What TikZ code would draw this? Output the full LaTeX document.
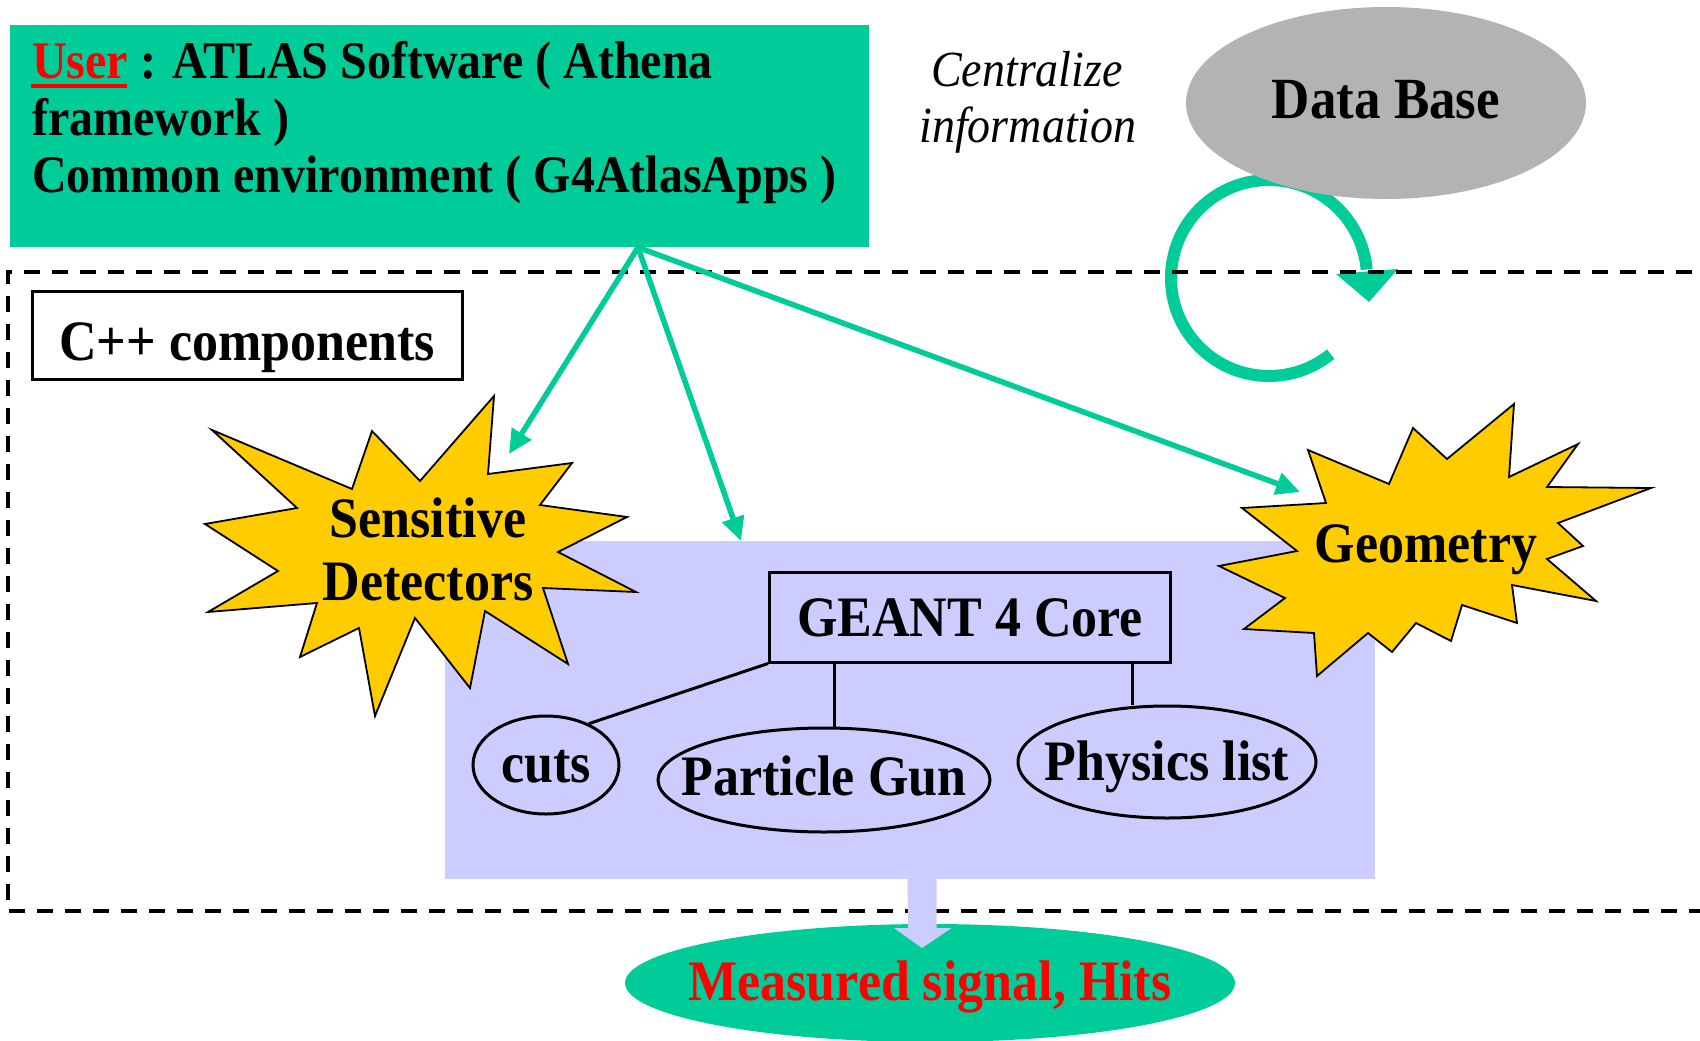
\documentclass[tikz,border=0pt]{standalone}
\usepackage{fontspec}
\usepackage{graphicx}
\setmainfont{Liberation Serif}
\usetikzlibrary{arrows.meta,shapes.geometric,calc}
\definecolor{tgreen}{HTML}{00CC99}
\definecolor{dbgray}{HTML}{B3B3B3}
\definecolor{lblue}{HTML}{CCCCFF}
\definecolor{stary}{HTML}{FFCC00}
\definecolor{tred}{HTML}{FF0000}
\newcommand\talltxt[1]{\scalebox{1}[1.1]{#1}}
\begin{document}
\begin{tikzpicture}[x=1pt,y=-1pt,
  big/.style={font=\fontsize{52}{62}\selectfont\bfseries, inner sep=0pt},
  mid/.style={font=\fontsize{48}{57}\selectfont\bfseries, inner sep=0pt},
  ital/.style={font=\fontsize{46}{55}\selectfont\itshape, inner sep=0pt},
  starshape/.style={fill=stary, draw=black, line width=1.8pt, line join=miter},
  garrow/.style={draw=tgreen, line width=5.5pt, -{Triangle[width=22pt,length=24pt]}},
  oval/.style={ellipse, draw=black, line width=3pt, inner sep=0pt, big},
  link/.style={draw=black, line width=3pt}
]
\useasboundingbox (0,0) rectangle (1700,1041);
\clip (0,0) rectangle (1700,1041);

% circular arrow near data base
\draw[tgreen, line width=12pt] (1269,278) ++(51:98) arc[start angle=51, end angle=355, radius=98];
\fill[tgreen] (1336,274) -- (1398,269) -- (1369,302) -- cycle;

% dashed region
\draw[line width=4pt, dash pattern=on 16pt off 12pt] (1720,272) -- (8,272) -- (8,911) -- (1720,911);

% user box
\node[fill=tgreen, minimum width=859pt, minimum height=222pt, inner sep=0pt, anchor=north west] (user) at (10,25) {};
\node[mid, anchor=base west] (u1) at (32,78) {\talltxt{\textcolor{tred}{User} : ATLAS Software ( Athena}};
\node[mid, anchor=base west] (u2) at (32,135) {\talltxt{framework )}};
\node[mid, anchor=base west] (u3) at (32,192) {\talltxt{Common environment ( G4AtlasApps )}};
\draw[tred, line width=4pt] (31,86) -- (127,86);

% centralize information
\node[ital, anchor=base] (c1) at (1027,87) {\talltxt{Centralize}};
\node[ital, anchor=base] (c2) at (1028,142) {\talltxt{information}};

% data base
\node[ellipse, fill=dbgray, minimum width=400pt, minimum height=192pt, inner sep=0pt,
      font=\fontsize{53}{63}\selectfont\bfseries, text height=36pt, text depth=6pt] (db) at (1386,103) {\talltxt{Data Base}};

% C++ components
\node[draw=black, line width=3pt, minimum width=430pt, minimum height=88pt, big,
      text height=50pt, text depth=0pt] (cpp) at (247,335) {\talltxt{C++ components}};

% core area
\node[fill=lblue, minimum width=930pt, minimum height=338pt, inner sep=0pt, anchor=north west] (core) at (445,541) {};

% measured signal
\node[ellipse, fill=tgreen, minimum width=610pt, minimum height=118pt, inner sep=0pt,
      big, text=tred, text height=36pt, text depth=2pt] (meas) at (930,983) {\makebox[0pt]{\talltxt{Measured signal, Hits}}};
\coordinate (stemtop) at (922,879);
\coordinate (stemtip) at (922,948);
\fill[lblue] (stemtop) ++(-14.5,-4) -- ++(29,0) -- ++(0,53) -- ++(15,0) -- (stemtip) -- ++(-28,-20) -- ++(14,0) -- cycle;

% sensitive detectors star
\draw[starshape] (494,396) -- (488,474) -- (572,463) -- (540,505) -- (627,517) -- (558,552) -- (636,592) -- (543,588) -- (568,664) -- (485,611) -- (470,688) -- (415,618) -- (375,716) -- (359,628) -- (300,657) -- (317,603) -- (208,612) -- (278,571) -- (205,524) -- (297,508) -- (212,430) -- (352,489) -- (372,431) -- (420,481) -- cycle;
\node[big, anchor=base] (sd) at (428,537) {\talltxt{Sensitive}};
\node[big, anchor=base] (sd2) at (428,600) {\talltxt{Detectors}};

% geometry star
\draw[starshape] (1514,404) -- (1509,477) -- (1578,444) -- (1547,487) -- (1651,488) -- (1558,523) -- (1583,546) -- (1547,559) -- (1596,601) -- (1512,585) -- (1517,623) -- (1462,605) -- (1451,641) -- (1416,623) -- (1392,652) -- (1368,633) -- (1317,676) -- (1314,633) -- (1244,629) -- (1285,598) -- (1219,566) -- (1297,551) -- (1242,508) -- (1326,503) -- (1308,450) -- (1389,484) -- (1413,428) -- (1447,459) -- cycle;
\node[big, anchor=base] (geo) at (1426,562) {\talltxt{Geometry}};

% GEANT core and components
\node[draw=black, line width=3pt, fill=lblue, minimum width=401pt, minimum height=90pt, big,
      text height=38pt, text depth=0pt] (g4) at (970,617) {\talltxt{GEANT 4 Core}};
\node[oval, minimum width=146pt, minimum height=98pt, text height=34pt, text depth=0pt] (cuts) at (546,765) {\makebox[0pt]{\talltxt{cuts}}};
\node[oval, minimum width=332pt, minimum height=104pt, text height=36pt, text depth=6pt] (pg) at (824,780) {\makebox[0pt]{\talltxt{Particle Gun}}};
\node[oval, minimum width=298pt, minimum height=112pt, text height=36pt, text depth=0pt] (pl) at (1167,762) {\makebox[0pt]{\talltxt{Physics list}}};
\draw[link] (g4.south west) -- (cuts.44);
\draw[link] ($(g4.south west)+(66,0)$) coordinate (a1) -- (a1 |- pg.north);
\draw[link] ($(g4.south west)+(364,0)$) coordinate (a2) -- (a2 |- pl.north);

% green arrows
\coordinate (src) at ($(user.south west)+(628,0)$);
\coordinate (sdtip) at (509,454);
\coordinate (coretop) at (741,541);
\coordinate (geotip) at (1300,492);
\draw[garrow] (src) -- (sdtip);
\draw[garrow] (src) -- (coretop);
\draw[garrow] (src) -- (geotip);
\end{tikzpicture}
\end{document}
